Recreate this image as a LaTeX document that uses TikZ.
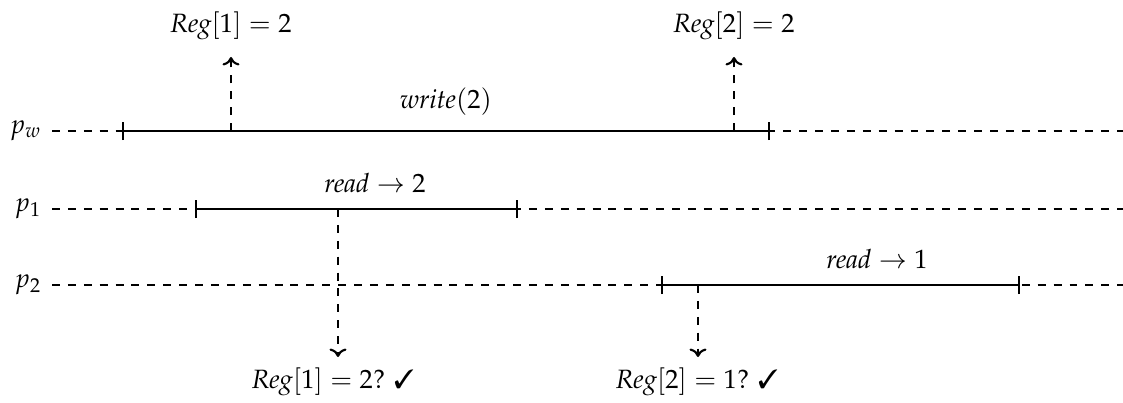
\documentclass[tikz,border=0pt]{standalone}
\usepackage{mathpazo}
\usepackage{pifont}
\usetikzlibrary{arrows.meta}
\tikzset{
  proc/.style={line width=0.8pt, dash pattern=on 3pt off 3pt},
  opline/.style={line width=0.8pt},
  tick/.style={line width=0.8pt},
  evarrow/.style={line width=0.8pt, dash pattern=on 3pt off 3pt, -{To[length=3.2pt,width=6.4pt]}},
  lbl/.style={inner sep=0pt, font=\normalsize}
}
\begin{document}
\begin{tikzpicture}[x=0.3774pt, y=-0.3774pt]
\useasboundingbox (0,0) rectangle (1123,403);
% process labels
\node[lbl, anchor=east] (pw) at (42,131) {$p_w$};
\node[lbl, anchor=east] (p1) at (42,209) {$p_1$};
\node[lbl, anchor=east] (p2) at (42,285) {$p_2$};
% line end coordinates
\coordinate (pwS) at (52,131);  \coordinate (pwE) at (1123,131);
\coordinate (p1S) at (52,209);  \coordinate (p1E) at (1123,209);
\coordinate (p2S) at (52,285);  \coordinate (p2E) at (1123,285);
% timelines
\draw[proc] (pwS) -- (pwE);
\draw[proc] (p1S) -- (p1E);
\draw[proc] (p2S) -- (p2E);
% operation intervals
\coordinate (wA) at (123,131); \coordinate (wB) at (769,131);
\coordinate (r1A) at (196,209); \coordinate (r1B) at (517,209);
\coordinate (r2A) at (662,285); \coordinate (r2B) at (1019,285);
\draw[opline] (wA) -- (wB);
\draw[opline] (r1A) -- (r1B);
\draw[opline] (r2A) -- (r2B);
\foreach \c in {wA,wB,r1A,r1B,r2A,r2B}{
  \draw[tick] ([yshift=-3.4pt]\c) -- ([yshift=3.4pt]\c);
}
% operation labels
\node[lbl] (wlab) at (446,102) {$\mathit{write}(2)$};
\node[lbl] (r1lab) at (375,183) {$\mathit{read} \rightarrow 2$};
\node[lbl] (r2lab) at (877,259) {$\mathit{read} \rightarrow 1$};
% register events
\coordinate (e1) at (231,131);
\coordinate (e2) at (734,131);
\coordinate (e3) at (338,209);
\coordinate (e4) at (698,285);
\node[lbl] (t1) at (231,26) {$\mathit{Reg}[1] = 2$};
\node[lbl] (t2) at (734,26) {$\mathit{Reg}[2] = 2$};
\node[lbl] (b1) at (333,382) {$\mathit{Reg}[1] = 2?$ \ding{51}};
\node[lbl] (b2) at (697,382) {$\mathit{Reg}[2] = 1?$ \ding{51}};
\coordinate (t1a) at (231,57);
\coordinate (t2a) at (734,57);
\coordinate (b1a) at (338,357);
\coordinate (b2a) at (698,357);
\draw[evarrow] (e1) -- (t1a);
\draw[evarrow] (e2) -- (t2a);
\draw[evarrow] (e3) -- (b1a);
\draw[evarrow] (e4) -- (b2a);
\end{tikzpicture}
\end{document}
